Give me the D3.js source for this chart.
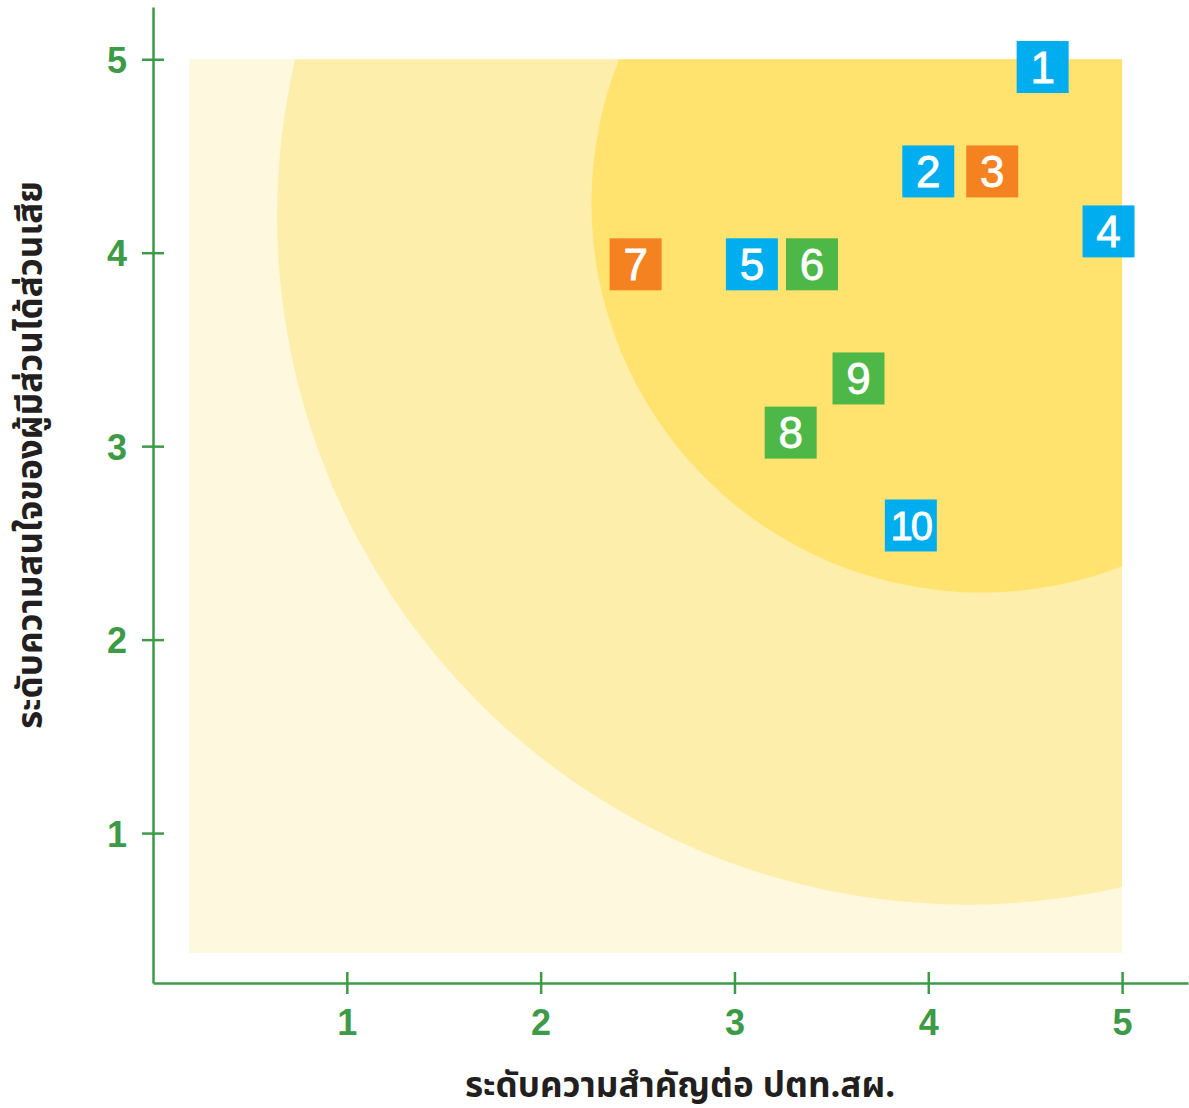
<!DOCTYPE html>
<html>
<head>
<meta charset="utf-8">
<script src="https://cdn.jsdelivr.net/npm/d3@7"></script>
<style>
  body { margin: 0; background: #fff; }
  svg { display: block; }
</style>
</head>
<body>
<div id="chart"></div>
<script>
// chart values
const ids     = ['1', '2', '3', '4', '5', '6', '7', '8', '9', '10'];
const xValues = [4.59, 4.00, 4.33, 4.93, 3.09, 3.40, 2.49, 3.29, 3.64, 3.91];
const yValues = [4.96, 4.42, 4.42, 4.11, 3.94, 3.94, 3.94, 3.07, 3.35, 2.59];
const groups  = ['blue', 'blue', 'orange', 'blue', 'blue', 'green', 'orange', 'green', 'green', 'blue'];
const tickValues = [1, 2, 3, 4, 5];

// zones: centre x, centre y, radius (in data units), outer first
const zoneCx = [4.20, 4.275];
const zoneCy = [4.19, 4.256];
const zoneR  = [3.56, 2.013];

const xTitle = 'ระดับความสำคัญต่อ ปตท.สผ.';
const yTitle = 'ระดับความสนใจของผู้มีส่วนได้ส่วนเสีย';

const GREEN = '#3d9a47';
const groupColor = { blue: '#00aeef', orange: '#f58220', green: '#4db848' };
const zoneColor = ['#feeeab', '#ffe36e'];

const width = 1189, height = 1108;

const svg = d3.select('#chart').append('svg')
  .attr('width', width)
  .attr('height', height);

const x = d3.scaleLinear().domain([0, 5.34]).range([153, 1188]);
const y = d3.scaleLinear().domain([0.225, 5.27]).range([983, 7]);

// background area + clipped circles
svg.append('clipPath').attr('id', 'plotClip')
  .append('rect')
  .attr('x', x(0.186)).attr('y', y(5))
  .attr('width', x(5) - x(0.186)).attr('height', y(0.38) - y(5));

svg.append('rect')
  .attr('x', x(0.186)).attr('y', y(5))
  .attr('width', x(5) - x(0.186)).attr('height', y(0.38) - y(5))
  .attr('fill', '#fef8df');

const zones = svg.append('g').attr('clip-path', 'url(#plotClip)');
zoneR.forEach((r, i) => {
  zones.append('ellipse')
    .attr('cx', x(zoneCx[i]))
    .attr('cy', y(zoneCy[i]))
    .attr('rx', x(r) - x(0))
    .attr('ry', y(0) - y(r))
    .attr('fill', zoneColor[i]);
});

// axes
const xAxis = svg.append('g')
  .attr('transform', `translate(0,${y(0.225)})`)
  .call(d3.axisBottom(x).tickValues(tickValues).tickFormat(d3.format('d'))
    .tickSizeOuter(0).tickSize(0).tickPadding(26));

const yAxis = svg.append('g')
  .attr('transform', `translate(${x(0)},0)`)
  .call(d3.axisLeft(y).tickValues(tickValues).tickFormat(d3.format('d'))
    .tickSizeOuter(0).tickSize(0).tickPadding(26));

[xAxis, yAxis].forEach(a => {
  a.select('.domain').attr('stroke', GREEN).attr('stroke-width', 2.5);
  a.selectAll('text')
    .attr('fill', GREEN)
    .style('font-family', 'Arial, "Liberation Sans", sans-serif')
    .style('font-weight', 'bold')
    .style('font-size', '36px');
});
xAxis.selectAll('.tick line').attr('stroke', GREEN).attr('stroke-width', 2.5).attr('y1', -11).attr('y2', 11);
yAxis.selectAll('.tick line').attr('stroke', GREEN).attr('stroke-width', 2.5).attr('x1', -11).attr('x2', 11);
yAxis.selectAll('.tick text').attr('dy', '0.36em');

// axis titles
svg.append('text')
  .attr('x', 680).attr('y', 1097)
  .attr('text-anchor', 'middle')
  .style('font-family', '"Noto Sans", "Noto Sans Thai", sans-serif')
  .style('font-weight', 'bold')
  .style('font-size', '35px')
  .attr('fill', '#231f20')
  .text(xTitle);

svg.append('text')
  .attr('transform', 'translate(42,455) rotate(-90)')
  .attr('text-anchor', 'middle')
  .style('font-family', '"Noto Sans", "Noto Sans Thai", sans-serif')
  .style('font-weight', 'bold')
  .style('font-size', '35px')
  .attr('fill', '#231f20')
  .text(yTitle);

// markers
const box = 52;
const markers = svg.append('g').selectAll('g')
  .data(ids.map((id, i) => ({ id, x: xValues[i], y: yValues[i], g: groups[i] })))
  .join('g')
  .attr('transform', d => `translate(${x(d.x)},${y(d.y)})`);

markers.append('rect')
  .attr('x', -box / 2).attr('y', -box / 2)
  .attr('width', box).attr('height', box)
  .attr('fill', d => groupColor[d.g]);

markers.append('text')
  .attr('text-anchor', 'middle')
  .attr('dy', '0.36em')
  .attr('fill', '#fff')
  .attr('stroke', '#fff')
  .attr('stroke-width', 0.8)
  .style('font-family', 'Arial, "Liberation Sans", sans-serif')
  .style('font-size', d => d.id.length > 1 ? '40px' : '44px')
  .style('letter-spacing', d => d.id.length > 1 ? '-2px' : '0')
  .text(d => d.id);
</script>
</body>
</html>
